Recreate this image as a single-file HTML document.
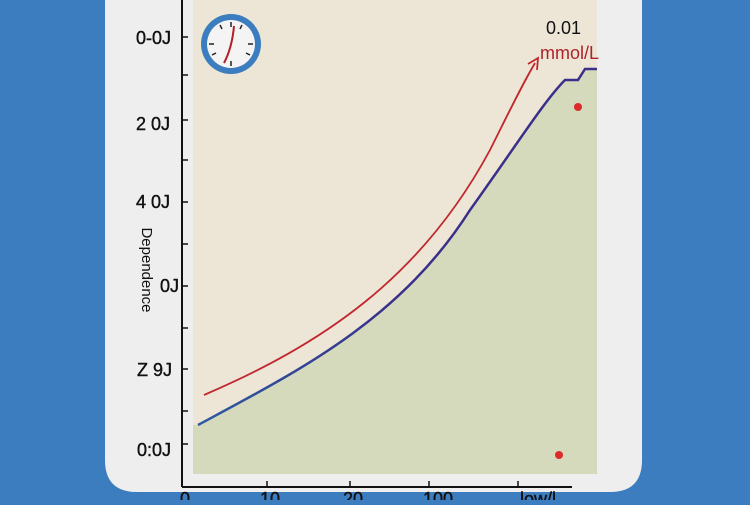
<!DOCTYPE html>
<html><head><style>
body{margin:0;width:750px;height:500px;overflow:hidden;background:#3b7dbf;font-family:"Liberation Sans",sans-serif}
</style></head><body>
<svg width="750" height="500" viewBox="0 0 750 500" xmlns="http://www.w3.org/2000/svg">
<defs><linearGradient id="lg" x1="0" x2="1"><stop offset="0" stop-color="#2c5aa0"/><stop offset="0.5" stop-color="#3a2f8a"/></linearGradient></defs>
<rect x="0" y="0" width="750" height="500" fill="#3b7dbf"/>
<path d="M105 -20 H642 V460 Q642 492 610 492 H137 Q105 492 105 460 Z" fill="#eeeeee"/>
<rect x="193" y="0" width="404" height="474" fill="#ede6d6"/>
<path d="M198 425 C300 370 400 320 470 210 C520 140 545 100 565 80 L578 80 L585 69 L597 69 L597 474 L193 474 L193 425 Z" fill="#d5dabd"/>
<path d="M198 425 C300 370 400 320 470 210 C520 140 545 100 565 80 L578 80 L585 69 L597 69" fill="none" stroke="url(#lg)" stroke-width="2.5"/>
<path d="M204 395 C320 345 420 280 490 150 C510 110 522 85 535 63" fill="none" stroke="#c0282e" stroke-width="1.8"/>
<path d="M528 64 L538 58 L537 70" fill="none" stroke="#c0282e" stroke-width="1.8"/>
<circle cx="578" cy="107" r="4" fill="#dd2a2a"/>
<circle cx="559" cy="455" r="4" fill="#dd2a2a"/>
<line x1="182" y1="0" x2="182" y2="487" stroke="#111" stroke-width="2"/>
<line x1="182" y1="487" x2="572" y2="487" stroke="#111" stroke-width="2"/>
<g stroke="#111" stroke-width="1.5">
<line x1="182" y1="37" x2="188" y2="37"/><line x1="182" y1="75" x2="188" y2="75"/>
<line x1="182" y1="120" x2="188" y2="120"/><line x1="182" y1="160" x2="188" y2="160"/>
<line x1="182" y1="202" x2="188" y2="202"/><line x1="182" y1="244" x2="188" y2="244"/>
<line x1="182" y1="286" x2="188" y2="286"/><line x1="182" y1="328" x2="188" y2="328"/>
<line x1="182" y1="369" x2="188" y2="369"/><line x1="182" y1="411" x2="188" y2="411"/>
<line x1="182" y1="444" x2="188" y2="444"/>
<line x1="267" y1="487" x2="267" y2="481"/><line x1="350" y1="487" x2="350" y2="481"/>
<line x1="429" y1="487" x2="429" y2="481"/><line x1="518" y1="487" x2="518" y2="481"/>
</g>
<g font-size="18" fill="#111" stroke="#111" stroke-width="0.4">
<text x="136" y="44">0-0J</text><text x="136" y="130">2 0J</text>
<text x="136" y="208">4 0J</text><text x="160" y="292">0J</text>
<text x="137" y="376">Z 9J</text><text x="137" y="456">0:0J</text>
<text x="180" y="505">0</text><text x="260" y="505">10</text><text x="343" y="505">20</text><text x="423" y="505">100</text>
<text x="520" y="505">low/l</text>
</g>
<text x="142" y="270" font-size="15" fill="#111" transform="rotate(90 142 270)" text-anchor="middle">Dependence</text>
<text x="546" y="34" font-size="18" fill="#111">0.01</text>
<text x="540" y="59" font-size="18" fill="#b0222a">mmol/L</text>
<circle cx="231" cy="44" r="30" fill="#3b7dbf"/>
<circle cx="231" cy="44" r="24" fill="#f4f4f4"/>
<g stroke="#222" stroke-width="1.5">
<line x1="231" y1="22" x2="231" y2="27"/><line x1="231" y1="61" x2="231" y2="66"/>
<line x1="209" y1="44" x2="214" y2="44"/><line x1="248" y1="44" x2="253" y2="44"/>
<line x1="242" y1="25" x2="240" y2="29"/><line x1="220" y1="25" x2="222" y2="29"/>
<line x1="250" y1="55" x2="246" y2="53"/><line x1="212" y1="55" x2="216" y2="53"/>
</g>
<path d="M224 63 Q232 48 234 26" stroke="#b0222a" stroke-width="2" fill="none"/>
</svg>
</body></html>
